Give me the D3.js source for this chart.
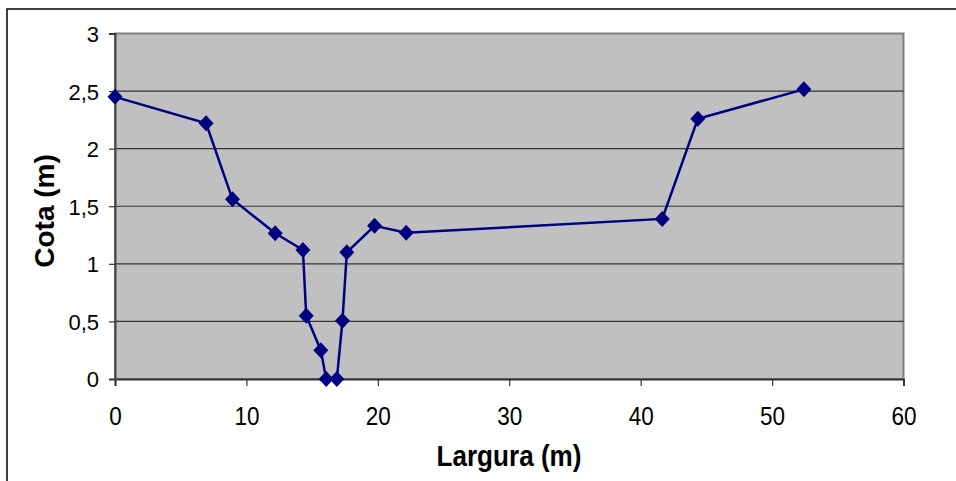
<!DOCTYPE html>
<html><head><meta charset="utf-8">
<script src="https://cdn.jsdelivr.net/npm/d3@7"></script>
<style>body{margin:0;background:#fff}svg{display:block}text{font-family:Arial,"Liberation Sans",sans-serif}</style>
</head><body><svg id="c" width="956" height="481"></svg>
<script>
const largura = [0, 6.93, 8.94, 12.19, 14.3, 14.55, 15.66, 16.07, 16.88, 17.31, 17.64, 19.75, 22.16, 41.64, 44.35, 52.42];
const cota    = [2.45, 2.22, 1.56, 1.265, 1.12, 0.55, 0.25, 0, 0, 0.506, 1.10, 1.33, 1.27, 1.39, 2.26, 2.515];
const xTicks = [0, 10, 20, 30, 40, 50, 60];
const yTicks = [0, 0.5, 1, 1.5, 2, 2.5, 3];
const xTitle = "Largura (m)";
const yTitle = "Cota (m)";

const svg = d3.select("#c");
const L = 115, R = 903.5, T = 33.5, B = 379;
const x = d3.scaleLinear().domain([0, 60]).range([L, R]);
const y = d3.scaleLinear().domain([0, 3]).range([B, T]);
const fmt = d => String(d).replace(".", ",");

// outer frame
svg.append("rect").attr("x", 7).attr("y", 9).attr("width", 1000).attr("height", 1000)
  .attr("fill", "none").attr("stroke", "#000").attr("stroke-width", 1.5);

// plot area
svg.append("rect").attr("x", L).attr("y", T).attr("width", R - L).attr("height", B - T)
  .attr("fill", "#c0c0c0").attr("stroke", "#808080").attr("stroke-width", 2);

// gridlines
svg.append("g").selectAll("line").data(yTicks.filter(d => d > 0 && d < 3)).join("line")
  .attr("x1", L).attr("x2", R).attr("y1", d => y(d)).attr("y2", d => y(d))
  .attr("stroke", "#333").attr("stroke-width", 1.2);

// axes
const gx = svg.append("g").attr("transform", `translate(0,${B})`)
  .call(d3.axisBottom(x).tickValues(xTicks).tickFormat(fmt).tickSize(7).tickPadding(0));
gx.attr("font-size", null).attr("font-family", null);
gx.select(".domain").attr("stroke", "#333").attr("stroke-width", 2);
gx.selectAll(".tick line").attr("stroke", "#333").attr("stroke-width", 1.2);
gx.selectAll(".tick text").style("font-size", "25px").attr("fill", "#000")
  .attr("y", 0).attr("dy", 0).attr("transform", "translate(0,46) scale(0.9,1)");

const gy = svg.append("g").attr("transform", `translate(${L},0)`)
  .call(d3.axisLeft(y).tickValues(yTicks).tickFormat(fmt).tickSize(6).tickPadding(10));
gy.attr("font-size", null).attr("font-family", null);
gy.select(".domain").attr("stroke", "#444").attr("stroke-width", 2);
gy.selectAll(".tick line").attr("stroke", "#333").attr("stroke-width", 1.2);
gy.selectAll(".tick text").style("font-size", "22px").attr("fill", "#000").attr("dy", "0.36em");

// line + markers
const pts = largura.map((d, i) => [d, cota[i]]);
svg.append("path").datum(pts)
  .attr("d", d3.line().x(d => x(d[0])).y(d => y(d[1])))
  .attr("fill", "none").attr("stroke", "#000080").attr("stroke-width", 2.5);
svg.append("g").selectAll("path").data(pts).join("path")
  .attr("d", "M0,-8L7.5,0L0,8L-7.5,0Z")
  .attr("transform", d => `translate(${x(d[0])},${y(d[1])})`)
  .attr("fill", "#000080");

// titles
svg.append("text").attr("transform", "translate(509,466) scale(0.9,1)")
  .attr("text-anchor", "middle").style("font-size", "29px").attr("font-weight", "bold").text(xTitle);
svg.append("text").attr("transform", "translate(54,211) rotate(-90)")
  .attr("text-anchor", "middle").style("font-size", "28px").attr("font-weight", "bold").text(yTitle);
</script></body></html>
